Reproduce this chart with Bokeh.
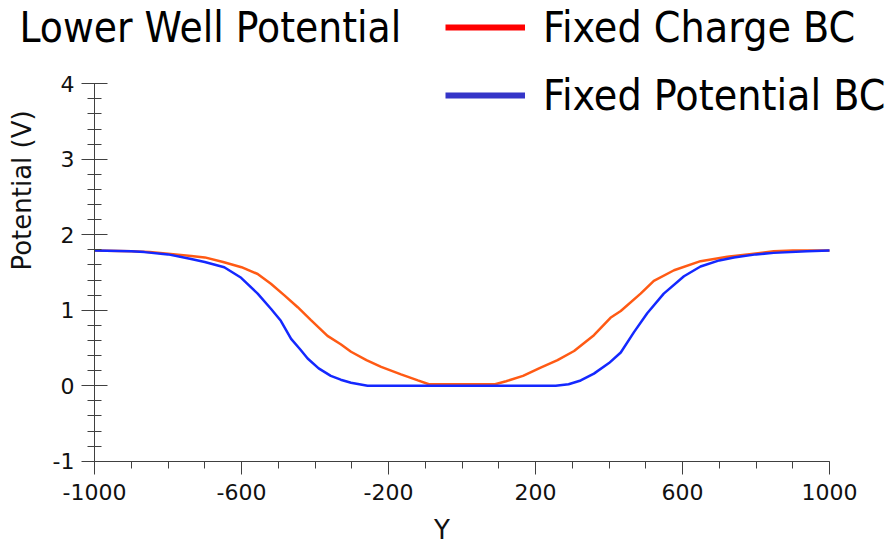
import math
import numpy as np
from bokeh.plotting import figure
from bokeh.models import (Range1d, FixedTicker, Label, Legend, LegendItem,
                          LinearAxis, ColumnDataSource)
from bokeh.embed import file_html
from bokeh.resources import INLINE

# ---- data ----
title_text = "Lower Well Potential"
x_label = "Y"
y_label = "Potential (V)"
series_names = ["Fixed Charge BC", "Fixed Potential BC"]

charge_y = [-1000, -900, -850, -800, -737, -700, -650, -600, -556, -520, -484,
            -447, -411, -366, -330, -302, -260, -220, -166, -120, -90, 0, 90,
            120, 166, 214, 260, 305, 359, 404, 432, 486, 522, 577, 649, 722,
            794, 848, 900, 1000]
charge_v = [1.79, 1.78, 1.77, 1.75, 1.72, 1.70, 1.64, 1.57, 1.48, 1.35, 1.20,
            1.04, 0.87, 0.66, 0.55, 0.45, 0.34, 0.25, 0.15, 0.07, 0.02, 0.02,
            0.02, 0.06, 0.13, 0.24, 0.34, 0.46, 0.67, 0.90, 0.99, 1.22, 1.39,
            1.53, 1.65, 1.71, 1.75, 1.78, 1.79, 1.79]

potential_y = [-1000, -900, -864, -800, -737, -700, -647, -601, -556, -520,
               -493, -465, -440, -420, -390, -357, -330, -302, -257, 0, 255,
               290, 323, 359, 400, 432, 468, 504, 549, 604, 649, 700, 740, 800,
               848, 939, 1000]
potential_v = [1.79, 1.78, 1.77, 1.74, 1.68, 1.64, 1.57, 1.43, 1.22, 1.02,
               0.86, 0.62, 0.48, 0.36, 0.23, 0.13, 0.08, 0.04, 0.0, 0.0, 0.0,
               0.02, 0.07, 0.16, 0.30, 0.44, 0.71, 0.96, 1.22, 1.45, 1.58, 1.66,
               1.70, 1.74, 1.76, 1.78, 1.79]

x_major = [-1000, -600, -200, 200, 600, 1000]
x_minor = list(range(-1000, 1001, 100))
y_major = [-1, 0, 1, 2, 3, 4]
y_minor = [round(-1 + 0.2 * i, 1) for i in range(26)]
x_bounds = (-1000, 1000)
y_bounds = (-1, 4)

# ---- styles / layout ----
charge_color = "#ff5a14"
potential_color = "#1428ff"
legend_charge_color = "#ff0000"
legend_potential_color = "#3535c8"
axis_color = "#404040"
text_color = "#111111"
cond_font = "DejaVu Sans Condensed"

W, H = 888, 546
# pixel positions of the axis bounds in the reference
px_left, px_right = 94.0, 829.0
py_top, py_bottom = 83.3, 460.7
sx = (px_right - px_left) / (x_bounds[1] - x_bounds[0])
sy = (py_bottom - py_top) / (y_bounds[1] - y_bounds[0])
x_rng = Range1d(x_bounds[0] - px_left / sx, x_bounds[1] + (W - px_right) / sx)
y_rng = Range1d(y_bounds[0] - (H - py_bottom) / sy, y_bounds[1] + py_top / sy)

p = figure(width=W, height=H, output_backend="svg", toolbar_location=None,
           x_range=x_rng, y_range=y_rng,
           x_axis_location=None, y_axis_location=None,
           min_border=0, min_border_left=0, min_border_right=0,
           min_border_top=0, min_border_bottom=0)
p.outline_line_color = None
p.xgrid.visible = False
p.ygrid.visible = False
p.background_fill_color = "white"
p.border_fill_color = "white"

p.line(charge_y, charge_v, line_width=2.5, color=charge_color)
p.line(potential_y, potential_v, line_width=2.5, color=potential_color)

# axes drawn at fixed data locations (cross at (-1000, -1))
xaxis = LinearAxis(fixed_location=y_bounds[0], bounds=x_bounds,
                   ticker=FixedTicker(ticks=x_major, minor_ticks=x_minor),
                   major_label_overrides={v: str(v) for v in x_major})
yaxis = LinearAxis(fixed_location=x_bounds[0], bounds=y_bounds,
                   ticker=FixedTicker(ticks=y_major, minor_ticks=y_minor),
                   major_label_overrides={v: str(v) for v in y_major})
for ax in (xaxis, yaxis):
    ax.axis_line_color = axis_color
    ax.major_tick_line_color = axis_color
    ax.minor_tick_line_color = axis_color
    ax.major_label_text_font = "DejaVu Sans"
    ax.major_label_text_font_size = "22px"
    ax.major_label_text_color = text_color
xaxis.major_tick_in = 0
xaxis.major_tick_out = 13
xaxis.minor_tick_in = 0
xaxis.minor_tick_out = 7
xaxis.major_label_standoff = 10
yaxis.major_tick_in = 13
yaxis.major_tick_out = 13
yaxis.minor_tick_in = 7
yaxis.minor_tick_out = 7
yaxis.major_label_standoff = 7
p.add_layout(xaxis, "below")
p.add_layout(yaxis, "left")

# axis titles and chart title as labels (screen units from bottom-left)
p.add_layout(Label(x=441.5, y=17, x_units="screen", y_units="screen",
                   text=x_label, text_align="center", text_baseline="alphabetic",
                   text_font="DejaVu Sans", text_font_size="26px",
                   text_color=text_color))
p.add_layout(Label(x=21, y=H - 190, x_units="screen", y_units="screen",
                   text=y_label, text_align="center", text_baseline="alphabetic",
                   angle=math.pi / 2, text_font="DejaVu Sans",
                   text_font_size="26px", text_color=text_color))
p.add_layout(Label(x=19, y=H - 27, x_units="screen", y_units="screen",
                   text=title_text, text_baseline="alphabetic",
                   text_font=cond_font, text_font_size="42px",
                   text_color="black"))

# legend (its own swatch colours differ from the plotted lines);
# swatch-only renderers hold a single NaN point so nothing is drawn in the plot
swatch_src = ColumnDataSource(data=dict(x=np.array([np.nan]), y=np.array([np.nan])))
leg_r1 = p.line("x", "y", source=swatch_src, color=legend_charge_color, line_width=6)
leg_r2 = p.line("x", "y", source=swatch_src, color=legend_potential_color, line_width=6)
legend = Legend(items=[LegendItem(label=series_names[0], renderers=[leg_r1]),
                       LegendItem(label=series_names[1], renderers=[leg_r2])],
                location=(445, H - 120), orientation="vertical",
                label_text_font=cond_font, label_text_font_size="42.5px",
                label_text_color="black",
                glyph_width=80, glyph_height=50, label_height=50,
                label_standoff=18, spacing=18, padding=0, margin=0,
                border_line_alpha=0, background_fill_alpha=0)
p.add_layout(legend, "center")

open("out.html", "w").write(file_html(p, INLINE))
